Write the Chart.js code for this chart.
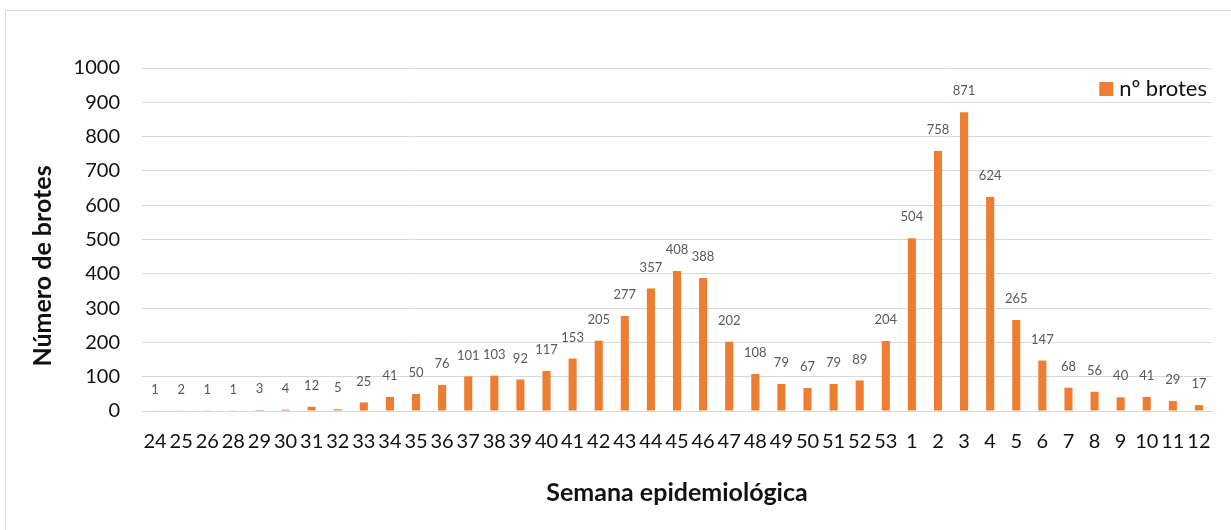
<!DOCTYPE html>
<html>
<head>
<meta charset="utf-8">
<script src="https://cdn.jsdelivr.net/npm/chart.js@4/dist/chart.umd.min.js"></script>
<style>
  html, body { margin: 0; padding: 0; background: #fff; overflow: hidden; }
  #wrap { position: relative; width: 1231px; height: 530px; }
  #frame { position: absolute; left: 5px; top: 10px; width: 1300px; height: 600px; border: 1px solid #d9d9d9; pointer-events: none; box-sizing: border-box; }
  canvas { position: absolute; left: 0; top: 0; }
</style>
</head>
<body>
<div id="wrap">
  <canvas id="c" width="1231" height="530"></canvas>
  <div id="frame"></div>
</div>
<script>
const weeks = ['24','25','26','28','29','30','31','32','33','34','35','36','37','38','39','40','41','42','43','44','45','46','47','48','49','50','51','52','53','1','2','3','4','5','6','7','8','9','10','11','12'];
const brotes = [1,2,1,1,3,4,12,5,25,41,50,76,101,103,92,117,153,205,277,357,408,388,202,108,79,67,79,89,204,504,758,871,624,265,147,68,56,40,41,29,17];
const seriesName = 'nº brotes';
const yTitle = 'Número de brotes';
const xTitle = 'Semana epidemiológica';

const FONT = 'Lato, "Open Sans", sans-serif';
const BAR_COLOR = '#ED7D31';
const TEXT_COLOR = '#111111';

const valueLabels = {
  id: 'valueLabels',
  afterDatasetsDraw(chart) {
    const ctx = chart.ctx;
    const meta = chart.getDatasetMeta(0);
    ctx.save();
    ctx.font = '13px ' + FONT;
    ctx.fillStyle = '#595959';
    ctx.textAlign = 'center';
    ctx.textBaseline = 'middle';
    meta.data.forEach((bar, i) => {
      ctx.fillText(String(chart.data.datasets[0].data[i]), bar.x, bar.y - 21);
    });
    ctx.restore();
  }
};

const cornerLegend = {
  id: 'cornerLegend',
  afterDraw(chart) {
    const ctx = chart.ctx;
    const ds = chart.data.datasets[0];
    const area = chart.chartArea;
    ctx.save();
    ctx.font = '22px ' + FONT;
    ctx.textBaseline = 'middle';
    ctx.textAlign = 'left';
    const w = ctx.measureText(ds.label).width;
    const textX = area.right - 5 - w;
    const y = 89;
    ctx.fillStyle = TEXT_COLOR;
    ctx.fillText(ds.label, textX, y);
    ctx.fillStyle = ds.backgroundColor;
    ctx.fillRect(textX - 20, y - 7, 14, 14);
    ctx.restore();
  }
};

const yAxisTitle = {
  id: 'yAxisTitle',
  afterDraw(chart) {
    const ctx = chart.ctx;
    ctx.save();
    ctx.translate(43, 266);
    ctx.rotate(-Math.PI / 2);
    ctx.font = 'bold 25px ' + FONT;
    ctx.fillStyle = TEXT_COLOR;
    ctx.textAlign = 'center';
    ctx.textBaseline = 'middle';
    ctx.fillText(yTitle, 0, 0);
    ctx.restore();
  }
};

new Chart(document.getElementById('c'), {
  type: 'bar',
  data: {
    labels: weeks,
    datasets: [{
      label: seriesName,
      data: brotes,
      backgroundColor: BAR_COLOR,
      borderWidth: 0,
      barPercentage: 0.31,
      categoryPercentage: 1.0
    }]
  },
  options: {
    responsive: false,
    animation: false,
    layout: { padding: { left: 28, right: 19, top: 68, bottom: 14 } },
    plugins: {
      tooltip: { enabled: false },
      legend: { display: false }
    },
    scales: {
      x: {
        grid: { display: false, drawTicks: false },
        border: { display: true, color: '#d9d9d9', width: 1 },
        ticks: {
          autoSkip: false, maxRotation: 0, minRotation: 0, padding: 19,
          color: TEXT_COLOR, font: { family: FONT, size: 20 }
        },
        title: {
          display: true, text: xTitle, color: TEXT_COLOR,
          font: { family: FONT, size: 25, weight: 'bold' },
          padding: { top: 0, bottom: 8 }
        },
        afterFit(scale) { scale.height = 530 - 14 - 411; }
      },
      y: {
        min: 0, max: 1000,
        ticks: {
          stepSize: 100, padding: 22, color: TEXT_COLOR,
          font: { family: FONT, size: 20 },
          callback: (v) => String(v)
        },
        grid: { color: '#d9d9d9', lineWidth: 1, drawTicks: false },
        border: { display: false },
        title: { display: false },
        afterFit(scale) { scale.width = 142 - 28; }
      }
    }
  },
  plugins: [valueLabels, cornerLegend, yAxisTitle]
});
</script>
</body>
</html>
